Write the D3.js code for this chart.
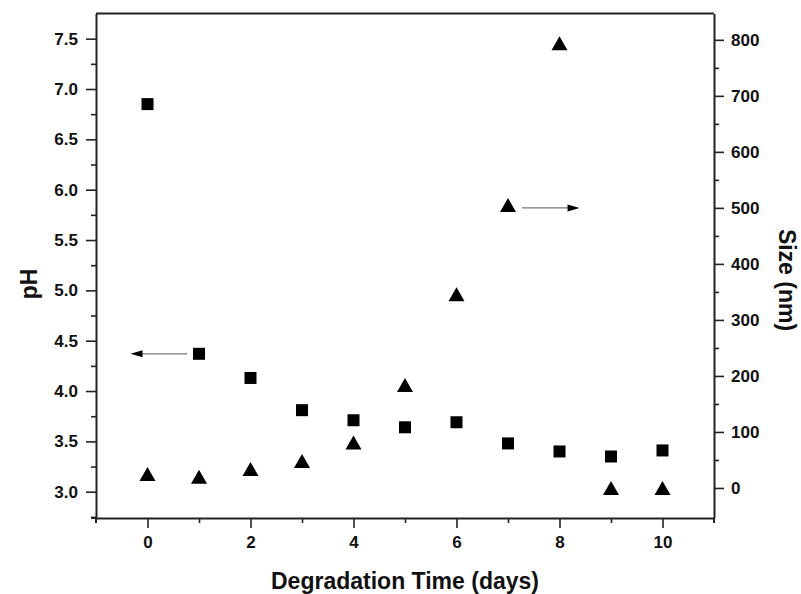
<!DOCTYPE html>
<html>
<head>
<meta charset="utf-8">
<script src="https://cdn.jsdelivr.net/npm/d3@7"></script>
<style>
  html, body { margin: 0; padding: 0; background: #fff; }
  svg { display: block; }
  text { font-family: "Liberation Sans", Arial, sans-serif; font-weight: bold; fill: #111; }
</style>
</head>
<body>
<svg id="chart" width="801" height="594"></svg>
<script>
// ---- data ----
const days = [0, 1, 2, 3, 4, 5, 6, 7, 8, 9, 10];
const pHValues = [6.85, 4.37, 4.13, 3.81, 3.71, 3.64, 3.69, 3.48, 3.40, 3.35, 3.41];
const sizeValues = [25, 20, 34, 48, 81, 184, 346, 505, 794, 0, 0];
const xTicks = [0, 2, 4, 6, 8, 10];
const xMinorTicks = [1, 3, 5, 7, 9];
const pHTicks = [3.0, 3.5, 4.0, 4.5, 5.0, 5.5, 6.0, 6.5, 7.0, 7.5];
const pHMinorTicks = [2.75, 3.25, 3.75, 4.25, 4.75, 5.25, 5.75, 6.25, 6.75, 7.25];
const sizeTicks = [0, 100, 200, 300, 400, 500, 600, 700, 800];
const sizeMinorTicks = [50, 150, 250, 350, 450, 550, 650, 750];
// arrow annotations (data units): [x from, x to, value]
const pHArrow = [0.77, -0.33, 4.37];
const sizeArrow = [7.27, 8.39, 500];

// ---- layout ----
const svg = d3.select("#chart");
const L = 96, R = 714, T = 13.5, B = 518;

const x = d3.scaleLinear().domain([-1, 11]).range([L, R]);
const yL = d3.scaleLinear().domain([2.739, 7.75]).range([B, T]);
const yR = d3.scaleLinear().domain([-53.6, 847]).range([B, T]);

const axisStroke = "#222";

function styleAxis(g) {
  g.selectAll("path.domain").attr("stroke", axisStroke).attr("stroke-width", 2);
  g.selectAll(".tick line").attr("stroke", axisStroke).attr("stroke-width", 1.6);
  g.selectAll(".tick text").style("font-size", "17px").attr("fill", "#111");
}

// minor ticks
const gxm = svg.append("g").attr("transform", `translate(0,${B})`)
  .call(d3.axisBottom(x).tickValues(xMinorTicks).tickSize(5).tickFormat(""));
styleAxis(gxm); gxm.select("path.domain").remove();
const gym = svg.append("g").attr("transform", `translate(${L},0)`)
  .call(d3.axisLeft(yL).tickValues(pHMinorTicks).tickSize(5).tickFormat(""));
styleAxis(gym); gym.select("path.domain").remove();
const grm = svg.append("g").attr("transform", `translate(${R},0)`)
  .call(d3.axisRight(yR).tickValues(sizeMinorTicks).tickSize(5).tickFormat(""));
styleAxis(grm); grm.select("path.domain").remove();

// major axes
const gx = svg.append("g").attr("transform", `translate(0,${B})`)
  .call(d3.axisBottom(x).tickValues(xTicks).tickSize(10).tickSizeOuter(0).tickPadding(8).tickFormat(d3.format("d")));
styleAxis(gx);
const gy = svg.append("g").attr("transform", `translate(${L},0)`)
  .call(d3.axisLeft(yL).tickValues(pHTicks).tickSize(10).tickSizeOuter(0).tickPadding(8).tickFormat(d3.format(".1f")));
styleAxis(gy);
const gr = svg.append("g").attr("transform", `translate(${R},0)`)
  .call(d3.axisRight(yR).tickValues(sizeTicks).tickSize(10).tickSizeOuter(0).tickPadding(7).tickFormat(d3.format("d")));
styleAxis(gr);

// top border
svg.append("line").attr("x1", L).attr("x2", R).attr("y1", T).attr("y2", T)
  .attr("stroke", axisStroke).attr("stroke-width", 2);
// small corner extensions
svg.append("line").attr("x1", L - 5).attr("x2", L).attr("y1", B).attr("y2", B)
  .attr("stroke", axisStroke).attr("stroke-width", 2);
svg.append("line").attr("x1", L).attr("x2", L).attr("y1", B).attr("y2", B + 5)
  .attr("stroke", axisStroke).attr("stroke-width", 2);
svg.append("line").attr("x1", R).attr("x2", R).attr("y1", B).attr("y2", B + 5)
  .attr("stroke", axisStroke).attr("stroke-width", 2);

// ---- marks ----
const sq = 12;
svg.append("g").selectAll("rect").data(days).join("rect")
  .attr("x", (d) => x(d) - sq / 2)
  .attr("y", (d, i) => yL(pHValues[i]) - sq / 2)
  .attr("width", sq).attr("height", sq)
  .attr("fill", "#000");

const tw = 16, th = 14;
svg.append("g").selectAll("path").data(days).join("path")
  .attr("d", (d, i) => {
    const cx = x(d), cy = yR(sizeValues[i]);
    return `M${cx},${cy - th / 2}L${cx + tw / 2},${cy + th / 2}L${cx - tw / 2},${cy + th / 2}Z`;
  })
  .attr("fill", "#000");

// ---- arrows ----
function arrow(x0, x1, yv) {
  const dir = Math.sign(x1 - x0);
  const headLen = 12, headHalf = 3.5;
  svg.append("line")
    .attr("x1", x0).attr("x2", x1 - dir * headLen * 0.8)
    .attr("y1", yv).attr("y2", yv)
    .attr("stroke", "#777").attr("stroke-width", 1.3);
  svg.append("path")
    .attr("d", `M${x1},${yv}L${x1 - dir * headLen},${yv - headHalf}L${x1 - dir * headLen},${yv + headHalf}Z`)
    .attr("fill", "#000");
}
arrow(x(pHArrow[0]), x(pHArrow[1]), yL(pHArrow[2]));
arrow(x(sizeArrow[0]), x(sizeArrow[1]), yR(sizeArrow[2]));

// ---- axis titles ----
svg.append("text")
  .attr("x", 405).attr("y", 589)
  .attr("text-anchor", "middle")
  .style("font-size", "23px")
  .text("Degradation Time (days)");

svg.append("text")
  .attr("transform", `translate(37,284) rotate(-90)`)
  .attr("text-anchor", "middle")
  .style("font-size", "23px")
  .text("pH");

svg.append("text")
  .attr("transform", `translate(779,280) rotate(90)`)
  .attr("text-anchor", "middle")
  .style("font-size", "23px")
  .text("Size (nm)");
</script>
</body>
</html>
